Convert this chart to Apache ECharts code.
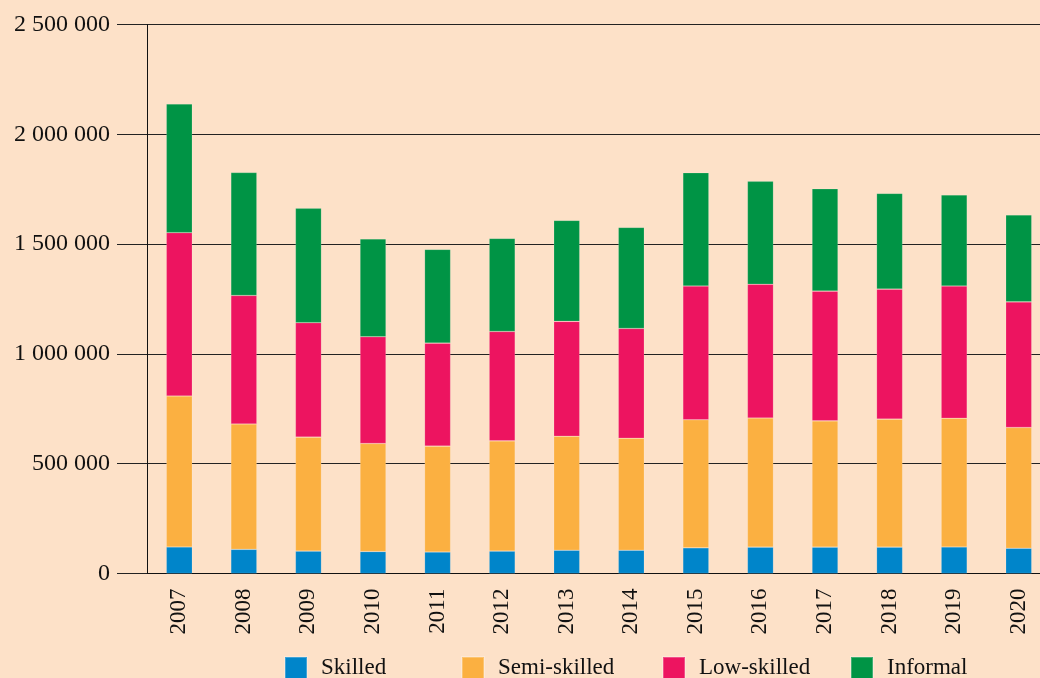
<!DOCTYPE html>
<html>
<head>
<meta charset="utf-8">
<script src="https://cdn.jsdelivr.net/npm/echarts@6/dist/echarts.min.js"></script>
<style>
html,body{margin:0;padding:0;background:#FDE1C8;}
#chart{width:1040px;height:678px;}
</style>
</head>
<body>
<div id="chart"></div>
<script>
const years = ['2007','2008','2009','2010','2011','2012','2013','2014','2015','2016','2017','2018','2019','2020'];
const skilled = [121000,110000,102000,100000,98000,102000,106000,106000,117000,120000,120000,120000,121000,115000];
const semiSkilled = [687000,571000,519000,492000,482000,502000,519000,510000,583000,588000,575000,583000,586000,550000];
const lowSkilled = [744000,585000,521000,486000,469000,498000,523000,500000,609000,609000,591000,592000,602000,572000];
const informal = [586000,560000,521000,446000,427000,424000,460000,460000,516000,469000,466000,436000,415000,396000];
const seriesNames = ['Skilled','Semi-skilled','Low-skilled','Informal'];
const yTicks = [0,500000,1000000,1500000,2000000,2500000];

const colors = ['#0085CA','#FBB041','#ED1460','#009445'];
const font = 'Liberation Serif';
const fmt = v => String(v).replace(/\B(?=(\d{3})+(?!\d))/g, ' ');

const chart = echarts.init(document.getElementById('chart'));
const dataSets = [skilled, semiSkilled, lowSkilled, informal];
const legendLeft = [284, 461, 662, 850];

chart.setOption({
  backgroundColor: '#FDE1C8',
  animation: false,
  color: colors,
  grid: {left: 147, top: 24.5, width: 904, height: 549, containLabel: false, outerBoundsMode: 'none'},
  legend: seriesNames.map((n, i) => ({
    data: [n],
    left: legendLeft[i],
    top: 656,
    itemWidth: 22,
    itemHeight: 22,
    icon: 'rect',
    padding: 0,
    textStyle: {fontFamily: font, fontSize: 23, color: '#111', padding: [0,0,0,9]}
  })),
  xAxis: {
    type: 'category',
    data: years,
    axisLine: {lineStyle: {color: '#111', width: 1}},
    axisTick: {show: false},
    axisLabel: {rotate: 90, margin: 15, fontFamily: font, fontSize: 23, color: '#111'}
  },
  yAxis: {
    type: 'value',
    min: yTicks[0],
    max: yTicks[yTicks.length-1],
    interval: yTicks[1]-yTicks[0],
    axisLine: {show: true, lineStyle: {color: '#111', width: 1}},
    axisTick: {show: true, length: 30, lineStyle: {color: '#222', width: 1}},
    splitLine: {show: true, lineStyle: {color: '#222', width: 1}},
    axisLabel: {margin: 37, fontFamily: font, fontSize: 24, color: '#111', formatter: fmt}
  },
  series: seriesNames.map((n, i) => ({
    name: n,
    type: 'bar',
    stack: 'total',
    barWidth: 26,
    data: dataSets[i],
    itemStyle: {color: colors[i], borderColor: 'rgba(255,255,255,0.25)', borderWidth: 0.6}
  }))
});
</script>
</body>
</html>
